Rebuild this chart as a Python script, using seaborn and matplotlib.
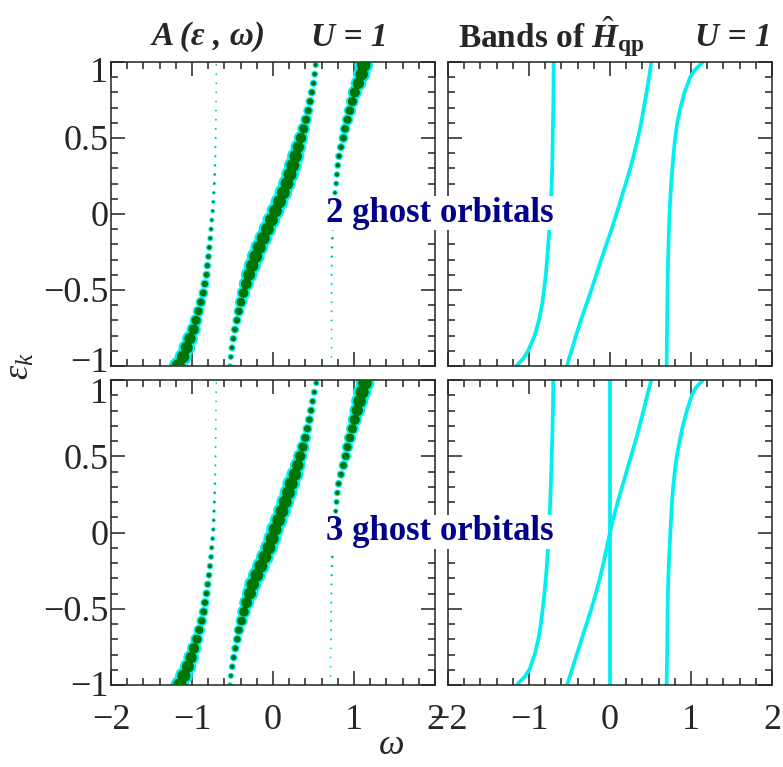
import numpy as np
import pandas as pd
import matplotlib
matplotlib.use("Agg")
import matplotlib.pyplot as plt
import matplotlib.transforms as mtransforms
import seaborn as sns

# ---------------- data ----------------
# k-point grid (epsilon_k) where the spectral function is sampled
eps_dot = [-1.00, -0.94, -0.88, -0.82, -0.76, -0.70, -0.64, -0.58, -0.52, -0.46,
           -0.40, -0.34, -0.28, -0.22, -0.16, -0.10, -0.04, 0.02, 0.08, 0.14,
           0.20, 0.26, 0.32, 0.38, 0.44, 0.50, 0.56, 0.62, 0.68, 0.74,
           0.80, 0.86, 0.92, 0.98]

# 2 ghost orbitals: pole positions (omega) and spectral weights
w2_A = [-1.17, -1.11, -1.065, -1.025, -0.98, -0.95, -0.92, -0.89, -0.86, -0.84,
        -0.82, -0.81, -0.797, -0.786, -0.775, -0.765, -0.755, -0.745, -0.738, -0.73,
        -0.725, -0.72, -0.716, -0.712, -0.71, -0.708, -0.706, -0.705, -0.704, -0.703,
        -0.702, -0.701, -0.70, -0.70]
w2_B = [-0.53, -0.52, -0.506, -0.49, -0.47, -0.445, -0.42, -0.395, -0.365, -0.33,
        -0.295, -0.256, -0.214, -0.17, -0.12, -0.07, -0.02, 0.03, 0.08, 0.128,
        0.172, 0.21, 0.245, 0.28, 0.312, 0.345, 0.378, 0.408, 0.435, 0.458,
        0.48, 0.50, 0.515, 0.527]
w2_C = [0.72, 0.722, 0.722, 0.723, 0.723, 0.723, 0.724, 0.724, 0.724, 0.724,
        0.724, 0.725, 0.726, 0.728, 0.733, 0.737, 0.742, 0.748, 0.755, 0.765,
        0.78, 0.79, 0.80, 0.815, 0.84, 0.87, 0.89, 0.92, 0.95, 0.98,
        1.01, 1.055, 1.095, 1.12]
z2_A = [1.0, 0.84, 0.77, 0.69, 0.56, 0.44, 0.34, 0.29, 0.25, 0.21,
        0.17, 0.14, 0.11, 0.095, 0.076, 0.062, 0.05, 0.037, 0.028, 0.02,
        0.016, 0.012, 0.008, 0.005, 0.004, 0.004, 0.003, 0.003, 0.003, 0.002,
        0.002, 0.002, 0.002, 0.002]
z2_B = [0.06, 0.085, 0.11, 0.14, 0.17, 0.21, 0.29, 0.39, 0.5, 0.63,
        0.77, 0.84, 0.9, 0.9, 0.9, 0.9, 0.9, 0.9, 0.9, 0.9,
        0.9, 0.9, 0.9, 0.84, 0.69, 0.56, 0.44, 0.34, 0.25, 0.21,
        0.17, 0.13, 0.11, 0.085]
z2_C = [0.002, 0.002, 0.002, 0.002, 0.002, 0.003, 0.003, 0.003, 0.003, 0.004,
        0.004, 0.004, 0.006, 0.008, 0.012, 0.016, 0.028, 0.037, 0.05, 0.0625,
        0.076, 0.095, 0.11, 0.14, 0.17, 0.25, 0.29, 0.34, 0.39, 0.44,
        0.56, 0.69, 0.84, 1.0]

# 3 ghost orbitals
w3_A = [-1.15, -1.10, -1.05, -1.01, -0.975, -0.94, -0.91, -0.88, -0.856, -0.84,
        -0.82, -0.806, -0.79, -0.778, -0.765, -0.757, -0.745, -0.737, -0.732, -0.728,
        -0.724, -0.72, -0.716, -0.713, -0.711, -0.709, -0.708, -0.707, -0.706, -0.705,
        -0.704, -0.703, -0.702, -0.70]
w3_B = [-0.53, -0.52, -0.503, -0.486, -0.465, -0.44, -0.42, -0.387, -0.358, -0.325,
        -0.284, -0.25, -0.20, -0.15, -0.10, -0.05, -0.01, 0.025, 0.07, 0.11,
        0.15, 0.19, 0.225, 0.27, 0.305, 0.335, 0.37, 0.40, 0.425, 0.45,
        0.47, 0.49, 0.51, 0.535]
w3_C = [0.71, 0.711, 0.712, 0.713, 0.714, 0.715, 0.716, 0.717, 0.718, 0.719,
        0.72, 0.722, 0.724, 0.728, 0.732, 0.737, 0.745, 0.752, 0.762, 0.774,
        0.785, 0.795, 0.81, 0.84, 0.87, 0.90, 0.92, 0.95, 0.98, 1.01,
        1.04, 1.07, 1.10, 1.136]
z3_A = [1.0, 0.9, 0.77, 0.69, 0.56, 0.44, 0.34, 0.29, 0.25, 0.21,
        0.17, 0.14, 0.11, 0.095, 0.076, 0.062, 0.05, 0.037, 0.028, 0.02,
        0.016, 0.012, 0.008, 0.005, 0.004, 0.004, 0.003, 0.003, 0.003, 0.002,
        0.002, 0.002, 0.002, 0.002]
z3_B = [0.06, 0.085, 0.11, 0.14, 0.17, 0.21, 0.29, 0.39, 0.5, 0.63,
        0.77, 0.84, 0.9, 0.9, 0.9, 0.9, 0.9, 0.9, 0.9, 0.9,
        0.9, 0.9, 0.9, 0.84, 0.69, 0.56, 0.44, 0.34, 0.25, 0.21,
        0.17, 0.13, 0.11, 0.085]
z3_C = [0.002, 0.002, 0.002, 0.002, 0.002, 0.003, 0.003, 0.003, 0.003, 0.004,
        0.004, 0.004, 0.006, 0.008, 0.012, 0.016, 0.02, 0.03, 0.04, 0.0625,
        0.085, 0.11, 0.14, 0.17, 0.25, 0.29, 0.34, 0.39, 0.44, 0.56,
        0.69, 0.84, 0.95, 1.0]

# bands of H_qp (right panels)
eps_line = [-1.0, -0.95, -0.9, -0.8, -0.7, -0.6, -0.5, -0.4, -0.3, -0.2, -0.1, 0.0,
            0.1, 0.2, 0.3, 0.4, 0.5, 0.6, 0.7, 0.8, 0.9, 0.95, 1.0]
b2_A = [-1.155, -1.07, -1.01, -0.93, -0.878, -0.84, -0.815, -0.792, -0.777, -0.762,
        -0.748, -0.737, -0.728, -0.72, -0.714, -0.71, -0.707, -0.704, -0.70, -0.698,
        -0.697, -0.696, -0.695]
b2_B = [-0.53, -0.505, -0.475, -0.42, -0.36, -0.295, -0.23, -0.17, -0.107, -0.045,
        0.02, 0.08, 0.137, 0.194, 0.25, 0.30, 0.345, 0.385, 0.418, 0.452,
        0.482, 0.497, 0.51]
b2_C = [0.70, 0.70, 0.701, 0.703, 0.705, 0.707, 0.71, 0.713, 0.717, 0.722,
        0.728, 0.735, 0.744, 0.755, 0.77, 0.785, 0.805, 0.83, 0.87, 0.92,
        0.99, 1.05, 1.15]
b3_A = [-1.152, -1.06, -0.995, -0.93, -0.885, -0.853, -0.83, -0.81, -0.792, -0.777,
        -0.765, -0.754, -0.745, -0.738, -0.731, -0.725, -0.72, -0.714, -0.709, -0.705,
        -0.702, -0.701, -0.70]
b3_B = [-0.53, -0.50, -0.47, -0.41, -0.35, -0.29, -0.23, -0.175, -0.125, -0.08,
        -0.04, 0.0, 0.045, 0.095, 0.15, 0.205, 0.26, 0.315, 0.365, 0.415,
        0.46, 0.485, 0.51]
b3_C = [0.70, 0.70, 0.702, 0.705, 0.707, 0.709, 0.711, 0.715, 0.72, 0.727,
        0.736, 0.745, 0.755, 0.765, 0.78, 0.80, 0.825, 0.86, 0.90, 0.95,
        1.01, 1.06, 1.15]
b3_D = [0.0, 0.0, 0.0, 0.0, 0.0, 0.0, 0.0, 0.0, 0.0, 0.0, 0.0, 0.0,
        0.0, 0.0, 0.0, 0.0, 0.0, 0.0, 0.0, 0.0, 0.0, 0.0, 0.0]

xticks = [-2, -1, 0, 1, 2]
xtick_labels = ["\u22122", "\u22121", "0", "1", "2"]
yticks = [-1, -0.5, 0, 0.5, 1]
ytick_labels = ["\u22121", "\u22120.5", "0", "0.5", "1"]
labels = ["2 ghost orbitals", "3 ghost orbitals"]

# ---------------- style ----------------
sns.set_theme(style="white")
SERIF = "Liberation Serif"
plt.rcParams.update({
    "font.family": [SERIF, "DejaVu Serif"],
    "mathtext.fontset": "custom",
    "mathtext.rm": "Liberation Serif",
    "mathtext.it": "Liberation Serif:italic",
    "mathtext.bf": "Liberation Serif:bold",
    "mathtext.bfit": "Liberation Serif:bold:italic",
    "axes.linewidth": 1.1,
    "axes.edgecolor": "#222222",
})

CYAN = "#00f0f0"
GREEN = "#007400"
FS = 26
TFS = 24

W, H = 783, 767
fig = plt.figure(figsize=(W / 100, H / 100), dpi=100)

def ax_rect(x0, y0, x1, y1):
    return [x0 / W, 1 - y1 / H, (x1 - x0) / W, (y1 - y0) / H]

axes = [[fig.add_axes(ax_rect(111, 62, 435, 366)), fig.add_axes(ax_rect(448, 62, 772, 366))],
        [fig.add_axes(ax_rect(111, 380, 435, 685)), fig.add_axes(ax_rect(448, 380, 772, 685))]]

dot_sets = [
    [(w2_A, z2_A), (w2_B, z2_B), (w2_C, z2_C)],
    [(w3_A, z3_A), (w3_B, z3_B), (w3_C, z3_C)],
]
band_sets = [[b2_A, b2_B, b2_C], [b3_A, b3_B, b3_C, b3_D]]
# vertical nudges (px) of the end tick labels (-1, 1) per row, as in the reference
end_shift = [(6, -8), (2, -10)]

for r in range(2):
    axl, axr = axes[r]
    # ---- spectral function dots
    frames = []
    for br, (om, z) in enumerate(dot_sets[r]):
        frames.append(pd.DataFrame({"omega": om, "eps": eps_dot, "z": z, "branch": br}))
    df = pd.concat(frames, ignore_index=True)
    zs = np.sqrt(df["z"].to_numpy())
    df["outer"] = (0.8 + 12.6 * zs) ** 2
    df["inner"] = (9.8 * zs) ** 2
    so = (df["outer"].min(), df["outer"].max())
    si = (df["inner"].min(), df["inner"].max())
    sns.scatterplot(data=df, x="omega", y="eps", size="outer", sizes=so, size_norm=so,
                    color=CYAN, edgecolor="none", linewidth=0, legend=False, ax=axl,
                    zorder=2, clip_on=True)
    sns.scatterplot(data=df, x="omega", y="eps", size="inner", sizes=si, size_norm=si,
                    color=GREEN, edgecolor="none", linewidth=0, legend=False, ax=axl,
                    zorder=3, clip_on=True)
    # ---- bands of H_qp
    for om in band_sets[r]:
        sns.lineplot(x=om, y=eps_line, sort=False, estimator=None, color=CYAN,
                     linewidth=2.7, ax=axr, solid_capstyle="butt")

    for ax in (axl, axr):
        ax.set_xlim(-2, 2)
        ax.set_ylim(-1, 1)
        ax.set_xlabel("")
        ax.set_ylabel("")
        ax.set_xticks(xticks)
        ax.set_yticks(yticks)
        ax.set_xticks(np.arange(-2, 2.01, 0.2), minor=True)
        ax.set_yticks(np.arange(-1, 1.01, 0.1), minor=True)
        ax.tick_params(which="both", direction="in", top=True, right=True,
                       bottom=True, left=True, color="#222222", width=1.1)
        ax.tick_params(which="major", length=10)
        ax.tick_params(which="minor", length=5)
        ax.tick_params(axis="x", pad=14, labelsize=FS)
        ax.tick_params(axis="y", pad=2, labelsize=FS)
        for sp in ax.spines.values():
            sp.set_visible(True)
            sp.set_linewidth(1.1)
        if r == 1:
            ax.set_xticklabels(xtick_labels)
        else:
            ax.set_xticklabels([])
        if ax is axl:
            ax.set_yticklabels(ytick_labels)
            tl = ax.get_yticklabels()
            for idx, dy in ((0, end_shift[r][0]), (-1, end_shift[r][1])):
                lab = tl[idx]
                lab.set_transform(lab.get_transform() +
                                  mtransforms.ScaledTranslation(0, dy / 100, fig.dpi_scale_trans))
        else:
            ax.set_yticklabels([])
        ax.set_facecolor("white")

# titles
TY = 1 - 37 / H
fig.text(152 / W, TY, "A (\u03b5 , \u03c9)", ha="left", va="center",
         fontsize=TFS, fontweight="bold", fontstyle="italic", family=SERIF)
fig.text(388 / W, TY, "U = 1", ha="right", va="center",
         fontsize=TFS, fontweight="bold", fontstyle="italic", family=SERIF)
fig.text(458 / W, TY, r"Bands of $\hat{\mathbfit{H}}_{\mathbf{qp}}$",
         ha="left", va="center", fontsize=TFS, fontweight="bold", family=SERIF)
fig.text(772 / W, TY, "U = 1", ha="right", va="center",
         fontsize=TFS, fontweight="bold", fontstyle="italic", family=SERIF)

# ghost-orbital labels
for r, yc in enumerate([213, 532]):
    fig.text(440 / W, 1 - yc / H, labels[r], ha="center", va="center", fontsize=25,
             fontweight="bold", color="#00008b", family=SERIF,
             bbox=dict(facecolor="white", edgecolor="none", pad=0.5))

# axis labels
fig.text(392 / W, 1 - 746 / H, "\u03c9", ha="center", va="center", fontsize=FS,
         fontstyle="italic", family=SERIF)
fig.text(20 / W, 1 - 366 / H, r"$\varepsilon_k$", ha="center", va="center", fontsize=FS,
         rotation=90)

fig.savefig("out.png", dpi=100, facecolor="white")
